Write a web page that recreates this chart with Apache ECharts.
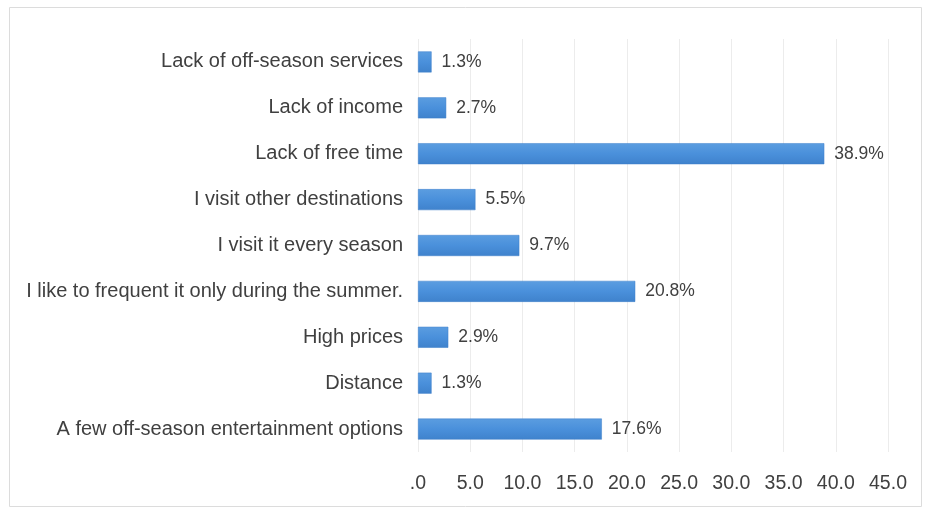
<!DOCTYPE html>
<html>
<head>
<meta charset="utf-8">
<script src="https://cdn.jsdelivr.net/npm/echarts@6/dist/echarts.min.js"></script>
<style>
  html, body { margin: 0; padding: 0; background: #ffffff; }
  #chart { width: 927px; height: 514px; }
</style>
</head>
<body>
<div id="chart"></div>
<script>
// Reasons for not visiting outside the summer season (% of respondents)
const categories = [
  'Lack of off-season services',
  'Lack of income',
  'Lack of free time',
  'I visit other destinations',
  'I visit it every season',
  'I like to frequent it only during the summer.',
  'High prices',
  'Distance',
  'A few off-season entertainment options'
];
const shares = [1.3, 2.7, 38.9, 5.5, 9.7, 20.8, 2.9, 1.3, 17.6];
const axisMin = 0;
const axisMax = 45;
const axisStep = 5;

const chart = echarts.init(document.getElementById('chart'), null, { renderer: 'canvas' });

const font = 'Arial, "Liberation Sans", sans-serif';

chart.setOption({
  animation: false,
  backgroundColor: '#ffffff',
  graphic: [{
    type: 'rect',
    silent: true,
    shape: { x: 9.5, y: 7.5, width: 912, height: 499 },
    style: { fill: 'none', stroke: '#dcdcdc', lineWidth: 1 }
  }],
  grid: {
    left: 418, right: 39, top: 39, bottom: 62,
    containLabel: false,
    outerBoundsMode: 'none'
  },
  xAxis: {
    type: 'value',
    min: axisMin,
    max: axisMax,
    interval: axisStep,
    axisLine: { show: false },
    axisTick: { show: false },
    splitLine: { show: true, lineStyle: { color: '#ececec', width: 1 } },
    axisLabel: {
      margin: 22,
      color: '#404040',
      fontFamily: font,
      fontSize: 19.5,
      formatter: function (v) {
        const s = v.toFixed(1);
        return s.startsWith('0') ? s.slice(1) : s;
      }
    }
  },
  yAxis: {
    type: 'category',
    data: categories,
    inverse: true,
    axisLine: { show: false },
    axisTick: { show: false },
    splitLine: { show: false },
    axisLabel: {
      margin: 15,
      color: '#404040',
      fontFamily: font,
      fontSize: 20
    }
  },
  series: [{
    type: 'bar',
    data: shares,
    barWidth: 21,
    itemStyle: {
      color: new echarts.graphic.LinearGradient(0, 0, 0, 1, [
        { offset: 0, color: '#5b9de0' },
        { offset: 0.5, color: '#4a90db' },
        { offset: 1, color: '#3f82cc' }
      ]),
      borderColor: '#3d7fca',
      borderWidth: 0.5
    },
    label: {
      show: true,
      position: 'right',
      distance: 10,
      color: '#404040',
      fontFamily: font,
      fontSize: 17.5,
      formatter: function (p) { return p.value.toFixed(1) + '%'; }
    }
  }]
});
</script>
</body>
</html>
